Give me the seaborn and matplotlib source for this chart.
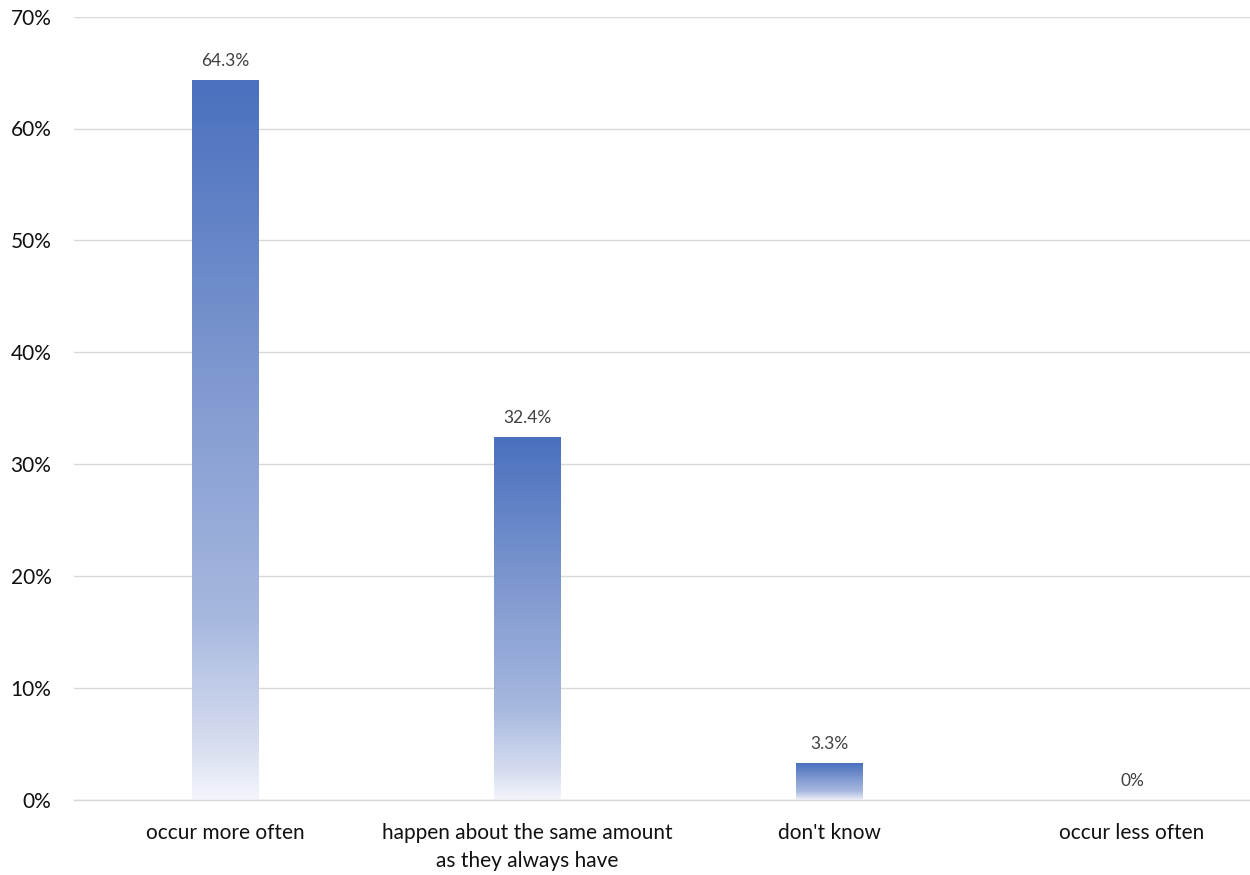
import numpy as np
import pandas as pd
import matplotlib
matplotlib.use("Agg")
import matplotlib.pyplot as plt
import seaborn as sns
from matplotlib.colors import LinearSegmentedColormap
from matplotlib.ticker import PercentFormatter

# Survey answers and their shares (percent)
categories = ["occur more often",
              "happen about the same amount\nas they always have",
              "don't know",
              "occur less often"]
values = [64.3, 32.4, 3.3, 0.0]
value_labels = ["64.3%", "32.4%", "3.3%", "0%"]

df = pd.DataFrame({"answer": categories, "share": values})

sns.set_theme(style="white")
plt.rcParams["font.family"] = ["Lato", "DejaVu Sans"]

fig = plt.figure(figsize=(12.5, 8.75), dpi=100)
ax = fig.add_axes([0.059, 0.086, 0.941, 0.895])

sns.barplot(data=df, x="answer", y="share", color="#4a71bf", width=0.22, ax=ax)

# bar fill: blue at the top fading to near-white at the base
grad = LinearSegmentedColormap.from_list(
    "fade", [(0.0, "#f3f5fb"), (0.08, "#d5dcef"), (0.25, "#a7b8df"),
             (0.6, "#7d97cf"), (1.0, "#4a70be")])
ramp = np.linspace(0, 1, 256).reshape(-1, 1)
for patch in ax.patches:
    x0, y0 = patch.get_x(), patch.get_y()
    w, h = patch.get_width(), patch.get_height()
    if h <= 0:
        continue
    patch.set_facecolor("none")
    patch.set_edgecolor("none")
    im = ax.imshow(ramp, cmap=grad, origin="lower", aspect="auto",
                   interpolation="bilinear",
                   extent=(x0, x0 + w, y0, y0 + h), zorder=2)
    im.set_clip_path(patch)

for i, (v, lab) in enumerate(zip(values, value_labels)):
    ax.text(i, v + 1.0, lab, ha="center", va="bottom", fontsize=12.5, color="#404040")

ax.set_xlim(-0.5, 3.39)
ax.set_ylim(0, 70)
ax.set_yticks(np.arange(0, 71, 10))
ax.yaxis.set_major_formatter(PercentFormatter(decimals=0))
ax.grid(axis="y", color="#d9d9d9", linewidth=1)
ax.set_axisbelow(True)
for s in ["top", "right", "left"]:
    ax.spines[s].set_visible(False)
ax.spines["bottom"].set_color("#d9d9d9")
ax.spines["bottom"].set_linewidth(1)
ax.tick_params(axis="both", length=0, labelsize=15, colors="#111111")
ax.tick_params(axis="x", pad=17)
ax.tick_params(axis="y", pad=16)
for t in ax.get_xticklabels():
    t.set_linespacing(1.45)
ax.set_xlabel("")
ax.set_ylabel("")

fig.savefig("out.png", dpi=100)
